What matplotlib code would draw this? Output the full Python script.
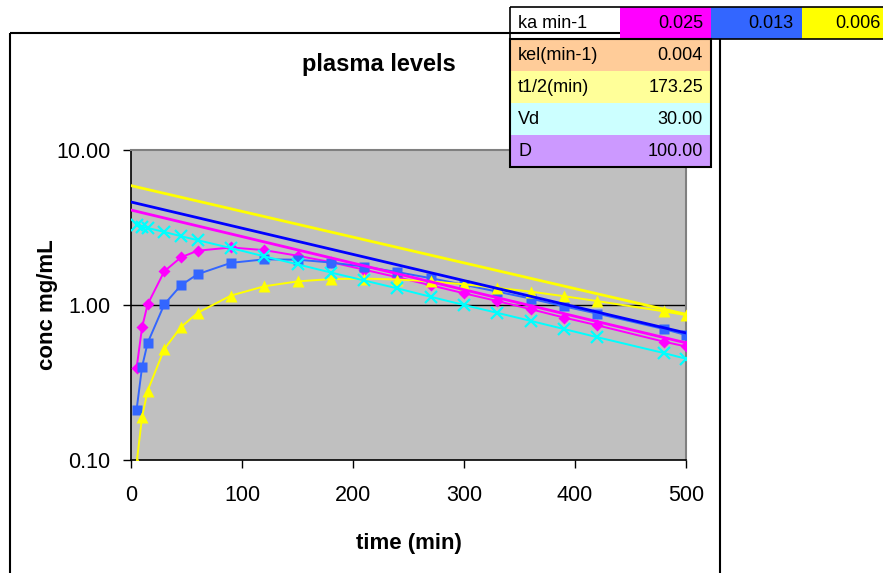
import matplotlib
matplotlib.use("Agg")
import matplotlib.pyplot as plt
from matplotlib.patches import Rectangle

# sampling times (min) and plasma concentrations
times = [5, 10, 15, 30, 45, 60, 90, 120, 150, 180, 210, 240, 270, 300, 330, 360, 390, 420, 480, 500]
conc_ka025 = [0.39, 0.72, 1.01, 1.65, 2.03, 2.24, 2.35, 2.26, 2.08, 1.89, 1.69, 1.51, 1.34, 1.19, 1.06, 0.94, 0.83, 0.74, 0.58, 0.54]
conc_ka013 = [0.21, 0.40, 0.57, 1.01, 1.34, 1.58, 1.87, 1.97, 1.96, 1.88, 1.77, 1.63, 1.49, 1.35, 1.22, 1.10, 0.98, 0.88, 0.70, 0.64]
conc_ka006 = [0.095, 0.19, 0.28, 0.52, 0.72, 0.89, 1.15, 1.32, 1.42, 1.47, 1.48, 1.46, 1.42, 1.36, 1.29, 1.22, 1.14, 1.06, 0.91, 0.86]
conc_iv = [3.27, 3.20, 3.14, 2.96, 2.78, 2.62, 2.33, 2.06, 1.83, 1.62, 1.44, 1.28, 1.13, 1.00, 0.89, 0.79, 0.70, 0.62, 0.49, 0.45]

# extrapolated elimination lines
line_t = [0, 500]
line_ka025 = [4.10, 0.57]
line_ka013 = [4.62, 0.66]
line_ka006 = [5.89, 0.87]

# parameter table
ka_labels = ["0.025", "0.013", "0.006"]
param_names = ["kel(min-1)", "t1/2(min)", "Vd", "D"]
param_values = ["0.004", "173.25", "30.00", "100.00"]

fonts = ["Liberation Sans", "DejaVu Sans"]

W, H = 883, 573
fig = plt.figure(figsize=(W / 100, H / 100), dpi=100)
fig.patch.set_facecolor("white")

# plot area in pixels: x 131..686, y 150..460
ax = fig.add_axes([131 / W, 1 - 460 / H, 555 / W, 310 / H])
ax.set_facecolor("#c0c0c0")

ax.plot(times, conc_ka025, color="#ff00ff", lw=1.4, marker="D", ms=6.5, mec="none", zorder=3)
ax.plot(times, conc_ka013, color="#3366ff", lw=1.4, marker="s", ms=7, mec="none", zorder=3)
ax.plot(times, conc_ka006, color="#ffff00", lw=1.4, marker="^", ms=9, mec="none", zorder=3)
ax.plot(times, conc_iv, color="#00ffff", lw=1.4, marker="x", ms=8, mew=1.6, zorder=3)

ax.plot(line_t, line_ka025, color="#ff00ff", lw=2, zorder=4)
ax.plot(line_t, line_ka013, color="#0000ff", lw=2, zorder=4)
ax.plot(line_t, line_ka006, color="#ffff00", lw=2, zorder=4)

ax.set_yscale("log")
ax.set_ylim(0.1, 10)
ax.set_xlim(0, 500)
ax.set_yticks([0.1, 1, 10])
ax.set_yticklabels(["0.10", "1.00", "10.00"])
ax.yaxis.set_minor_locator(matplotlib.ticker.NullLocator())
ax.set_xticks([0, 100, 200, 300, 400, 500])
ax.axhline(1.0, color="black", lw=1, zorder=2)

for s in ["left", "bottom"]:
    ax.spines[s].set_color("black")
    ax.spines[s].set_linewidth(1.2)
for s in ["top", "right"]:
    ax.spines[s].set_color("#808080")
    ax.spines[s].set_linewidth(1.5)

ax.tick_params(direction="out", length=6, width=1, color="black")
ax.tick_params(axis="y", pad=9)
ax.tick_params(axis="x", pad=12)
for lab in ax.get_xticklabels() + ax.get_yticklabels():
    lab.set_family(fonts)
    lab.set_fontsize(15.5)

# overlay in pixel coordinates for titles, border and table
ov = fig.add_axes([0, 0, 1, 1], zorder=10)
ov.set_xlim(0, W)
ov.set_ylim(H, 0)
ov.axis("off")
ov.patch.set_alpha(0)

ov.add_patch(Rectangle((10, 33), 710, 600, fill=False, ec="black", lw=1.5))

ov.text(379, 64, "plasma levels", ha="center", va="center", fontsize=17,
        fontweight="bold", family=fonts)
ov.text(409, 543, "time (min)", ha="center", va="center", fontsize=16,
        fontweight="bold", family=fonts)
ov.text(47, 305, "conc mg/mL", ha="center", va="center", fontsize=16,
        fontweight="bold", family=fonts, rotation=90)

# top row of the table
ka_colors = ["#ff00ff", "#3366ff", "#ffff00"]
ka_x = [620, 711, 802]
ka_right = [703, 793, 881]
for x0, xr, c, lab in zip(ka_x, ka_right, ka_colors, ka_labels):
    ov.add_patch(Rectangle((x0, 7), 91, 32, fc=c, ec="none"))
    ov.text(xr, 23, lab, ha="right", va="center", fontsize=13, family=fonts)
ov.add_patch(Rectangle((510, 7), 400, 32, fill=False, ec="black", lw=1.2))
ov.text(518, 23, "ka min-1", ha="left", va="center", fontsize=13, family=fonts)

# lower block of the table
row_colors = ["#ffcc99", "#ffff99", "#ccffff", "#cc99ff"]
for i, (name, val, c) in enumerate(zip(param_names, param_values, row_colors)):
    y0 = 39 + i * 32
    ov.add_patch(Rectangle((510, y0), 201, 32, fc=c, ec="none"))
    ov.text(518, y0 + 16, name, ha="left", va="center", fontsize=13, family=fonts)
    ov.text(703, y0 + 16, val, ha="right", va="center", fontsize=13, family=fonts)
ov.add_patch(Rectangle((510, 39), 201, 128, fill=False, ec="black", lw=1.5))

fig.savefig("out.png", dpi=100)
